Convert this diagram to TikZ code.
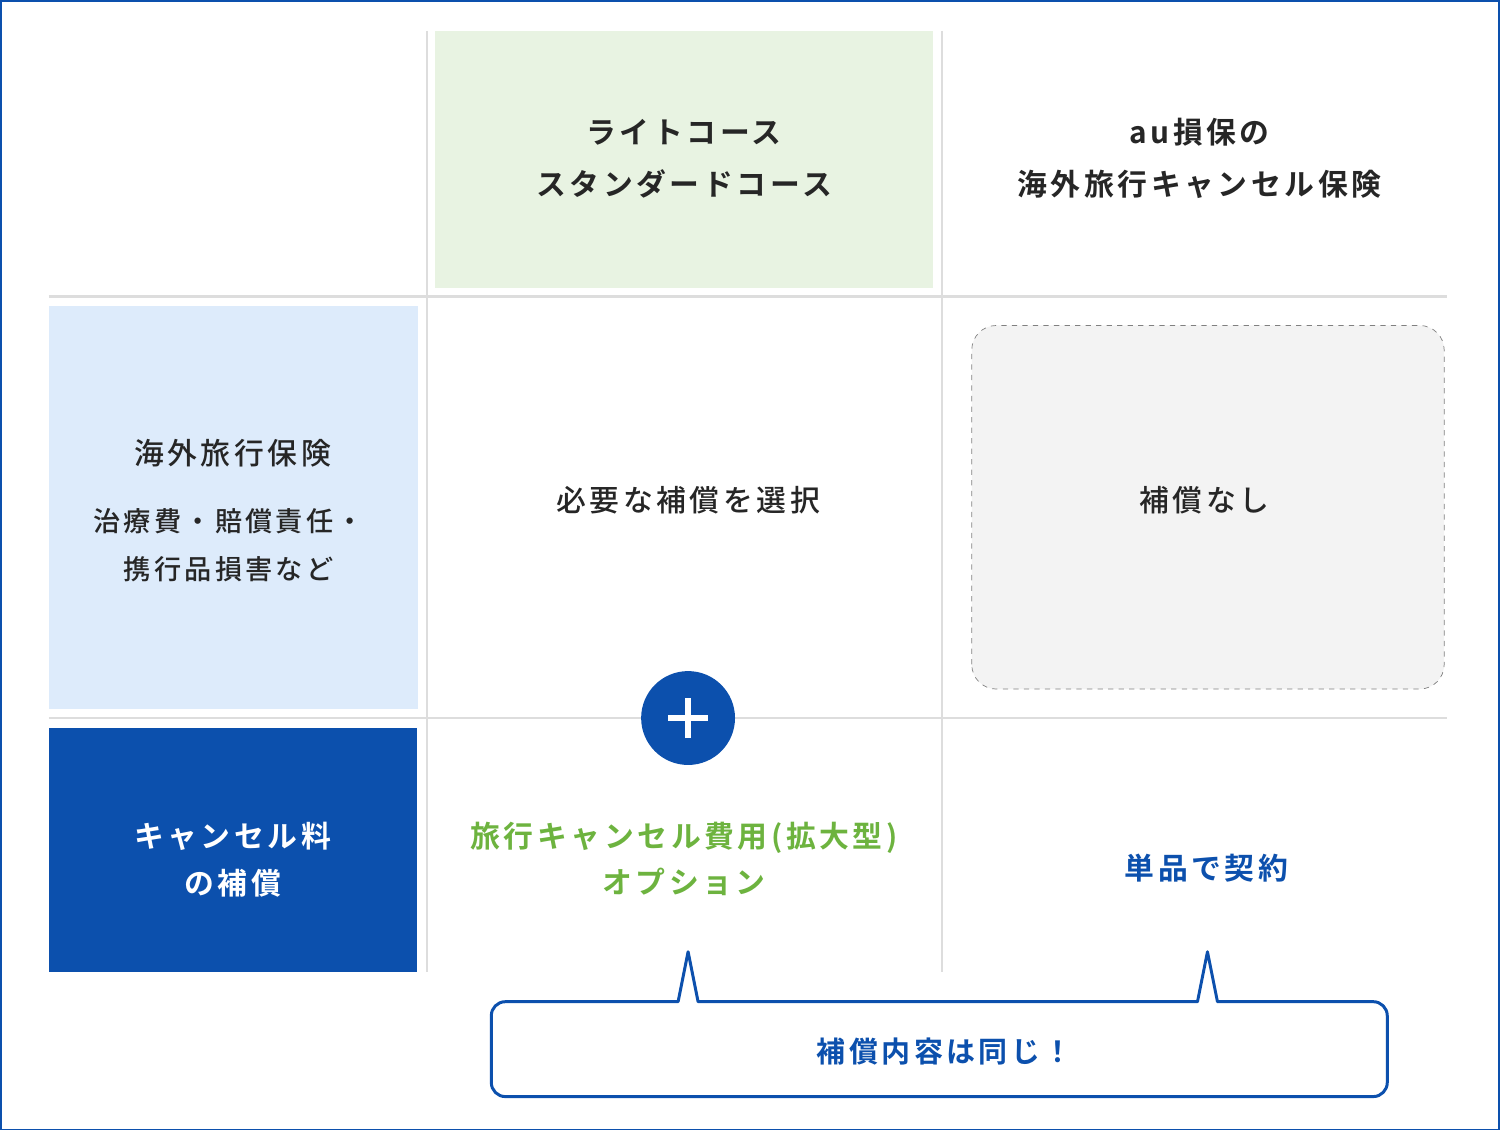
\documentclass[tikz,border=0pt]{standalone}
\usepackage{fontspec}
\setmainfont{Noto Sans CJK JP Medium}[LetterSpace=12]
\newfontfamily\jpbold{Noto Sans CJK JP Bold}[LetterSpace=12]
\definecolor{aublue}{HTML}{0C50AD}
\definecolor{augreen}{HTML}{6DB33F}
\definecolor{lgreen}{HTML}{E8F3E2}
\definecolor{lblue}{HTML}{DDEBFB}
\definecolor{lgray}{HTML}{F3F3F3}
\definecolor{rule}{HTML}{DDDDDD}
\tikzstyle{head}=[align=center, font=\jpbold\fontsize{17}{29.5}\selectfont, text=black!85]
\tikzstyle{body}=[align=center, font=\fontsize{17}{29.5}\selectfont, text=black!85]
\tikzstyle{small}=[align=center, font=\fontsize{15.5}{27}\selectfont, text=black!85]
\tikzstyle{grid}=[rule, line width=1.2pt]

\begin{document}
\begin{tikzpicture}[x=0.02cm, y=0.02cm]

\draw[aublue, line width=1pt] (0,0) rectangle (1500,1130);

% boxes
\fill[lgreen] (435,843) rectangle (933,1100);
\fill[lblue] (48,421) rectangle (418,825);
\fill[aublue] (48,158) rectangle (417,402);
\draw[gray, dashed, fill=lgray, rounded corners=14] (972,441) rectangle (1445,805);

% grid
\draw[grid] (427,1100) -- (427,158);
\draw[grid] (942,1100) -- (942,158);
\draw[grid] (48,834) -- (1448,834);
\draw[grid] (48,412) -- (1448,412);

% headers
\node[head] (light) at (684,972) {ライトコース\\スタンダードコース};
\node[head] (au) at (1200,972) {au損保の\\海外旅行キャンセル保険};

% row 1
\node[body] (kaigai) at (232,677) {海外旅行保険};
\node[small] (detail) at (228,585) {治療費・賠償責任・\\携行品損害など};
\node[body] (select) at (688,630) {必要な補償を選択};
\node[body] (none) at (1205,630) {補償なし};

% row 2
\node[head, text=white, font=\jpbold\fontsize{17}{27}\selectfont] (cancel) at (232,270) {キャンセル料\\の補償};
\node[head, text=augreen, font=\jpbold\fontsize{17}{26}\selectfont] (option) at (684,271) {旅行キャンセル費用(拡大型)\\オプション};
\node[head, text=aublue] (single) at (1207,262) {単品で契約};

% plus
\node[circle, fill=aublue, minimum size=1.88cm] (plus) at (688,412) {};
\draw[white, line width=3pt] (plus.center) ++(-20,0) -- ++(40,0);
\draw[white, line width=3pt] (plus.center) ++(0,-20) -- ++(0,40);

% callout
\draw[aublue, line width=1.7pt, fill=white, line join=round]
  (505,128) -- (678,128) -- (688,178) -- (698,128) -- (1198,128) -- (1208,178) -- (1218,128)
  -- (1374,128) arc (90:0:14) -- (1388,47) arc (0:-90:14) -- (505,33) arc (270:180:14)
  -- (491,114) arc (180:90:14) -- cycle;
\node[head, text=aublue, font=\jpbold\fontsize{16.5}{20}\selectfont] (same) at (945,78) {補償内容は同じ！};

\end{tikzpicture}
\end{document}
